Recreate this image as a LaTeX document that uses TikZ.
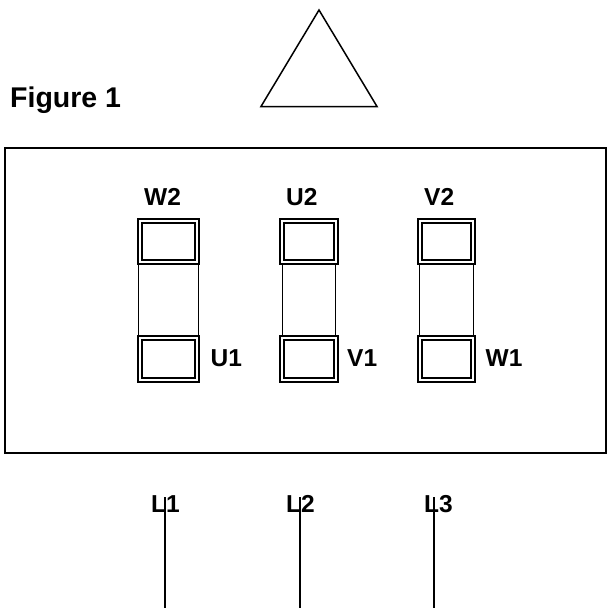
\documentclass[tikz,border=0pt]{standalone}
\usepackage{fontspec}
\setmainfont{Liberation Sans}
\tikzset{
  lbl/.style={font=\fontsize{24.5}{28}\selectfont\bfseries, inner sep=0pt, anchor=base west},
  figlbl/.style={font=\fontsize{28.5}{32}\selectfont\bfseries, inner sep=0pt, anchor=base west},
  termbox/.style={draw=black, line width=2pt, fill=white, inner sep=0pt},
  link/.style={draw=black, line width=1.1pt},
  frame/.style={draw=black, line width=2pt},
  lead/.style={draw=black, line width=2.2pt}
}
\begin{document}
\begin{tikzpicture}[x=1pt,y=-1pt]
\useasboundingbox (0,0) rectangle (608,608);
\draw[frame] (5,147.5) rectangle (606,453);
\draw[line width=1.5pt, line join=miter] (319,10) -- (377,106.5) -- (261,106.5) -- cycle;
\node[figlbl] (fig) at (10,107) {Figure 1};
% terminals: name / centre x / outer width / inner width / link half spacing
\foreach \n/\cx/\ow/\iw/\lk in {a/168.7/60.7/53/30,b/309/57.4/49.4/26.5,c/446.5/57/49.7/27}{
  \node[termbox, minimum width=\ow pt, minimum height=45.5pt] (\n top) at (\cx,241.3) {};
  \node[termbox, minimum width=\ow pt, minimum height=45.5pt] (\n bot) at (\cx,359) {};
  \node[termbox, minimum width=\iw pt, minimum height=37.5pt] (\n topi) at (\n top.center) {};
  \node[termbox, minimum width=\iw pt, minimum height=38.5pt] (\n boti) at (\n bot.center) {};
  \draw[link] ([xshift=-\lk pt]\n top.south) -- ([xshift=-\lk pt]\n bot.north);
  \draw[link] ([xshift=\lk pt]\n top.south) -- ([xshift=\lk pt]\n bot.north);
}
\node[lbl] (w2) at (144,205) {W2};
\node[lbl] (u2) at (286,205) {U2};
\node[lbl] (v2) at (424,205) {V2};
\node[lbl] (u1) at (210.5,366) {U1};
\node[lbl] (v1) at (347,366) {V1};
\node[lbl] (w1) at (485.5,366) {W1};
\node[lbl] (l1) at (151,512.5) {L1};
\node[lbl] (l2) at (286,512.5) {L2};
\node[lbl] (l3) at (424,512.5) {L3};
\coordinate (e1) at (165.3,608);
\coordinate (e2) at (299.7,608);
\coordinate (e3) at (434.3,608);
\coordinate (s1) at (165.3,497);
\coordinate (s2) at (299.7,497);
\coordinate (s3) at (434.3,497);
\draw[lead] (s1) -- (e1);
\draw[lead] (s2) -- (e2);
\draw[lead] (s3) -- (e3);
\end{tikzpicture}
\end{document}
